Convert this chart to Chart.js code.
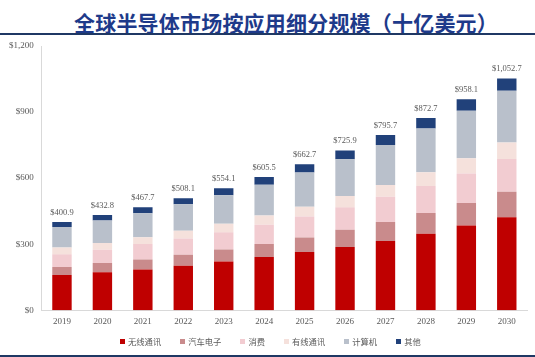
<!DOCTYPE html>
<html>
<head>
<meta charset="utf-8">
<script src="https://cdn.jsdelivr.net/npm/chart.js@4.4.0/dist/chart.umd.min.js"></script>
<style>
  html, body { margin: 0; padding: 0; background: #ffffff; }
  #wrap { position: relative; width: 535px; height: 357px; overflow: hidden; background: #fff; }
  #title { position: absolute; left: 74px; top: 11px; font-family: "Noto Sans CJK SC", sans-serif; font-weight: 700; font-size: 21px; line-height: 23px; letter-spacing: 0.2px; color: #1E3A8A; white-space: nowrap; }
  #topline { position: absolute; left: 0; top: 33px; width: 535px; height: 2px; background: #1F3864; }
  #botline { position: absolute; left: 0; top: 355px; width: 535px; height: 2px; background: #1F3864; }
  canvas { position: absolute; left: 0; top: 0; }
  #legend { position: absolute; left: 120px; top: 334px; height: 14px; display: flex; align-items: center; font-family: "Noto Sans CJK SC", sans-serif; font-size: 8.3px; color: #595959; white-space: nowrap; }
  .item { display: flex; align-items: center; margin-right: 19px; }
  .sw { width: 5px; height: 5px; margin-right: 3px; }
</style>
</head>
<body>
<div id="wrap">
  <div id="title">全球半导体市场按应用细分规模（十亿美元）</div>
  <div id="topline"></div>
  <canvas id="c" width="535" height="357"></canvas>
  <div id="legend"></div>
  <div id="botline"></div>
</div>
<script>
const years = ['2019','2020','2021','2022','2023','2024','2025','2026','2027','2028','2029','2030'];
const totals = [400.9, 432.8, 467.7, 508.1, 554.1, 605.5, 662.7, 725.9, 795.7, 872.7, 958.1, 1052.7];
const wireless = [160.0, 172.7, 184.7, 202.3, 221.1, 241.8, 264.6, 286.9, 314.5, 347.6, 384.3, 422.1];
const automotive = [36.4, 42.2, 45.2, 49.7, 54.3, 58.6, 65.8, 78.2, 85.8, 93.4, 102.6, 116.3];
const consumer = [57.7, 60.2, 70.8, 73.8, 78.3, 87.3, 94.7, 102.3, 115.5, 123.4, 133.8, 148.1];
const wired = [30.4, 30.1, 30.1, 34.7, 39.2, 42.1, 45.1, 51.2, 52.6, 61.7, 69.4, 75.2];
const computing = [93.6, 102.0, 109.8, 120.4, 129.6, 139.6, 155.0, 166.8, 182.1, 198.7, 215.3, 235.0];
const other = [22.8, 25.6, 27.1, 27.2, 31.6, 36.1, 37.5, 40.5, 45.2, 47.9, 52.7, 56.0];
const yTicks = [0, 300, 600, 900, 1200];
const seriesNames = ['无线通讯', '汽车电子', '消费', '有线通讯', '计算机', '其他'];

const colors = ['#BF0000', '#C98B8C', '#F2CCD1', '#F5E1DC', '#B9C0CB', '#21417A'];
const seriesData = [wireless, automotive, consumer, wired, computing, other];

// HTML legend built from the series names and colours
const legendEl = document.getElementById('legend');
seriesNames.forEach((n, k) => {
  const it = document.createElement('span');
  it.className = 'item';
  const sw = document.createElement('span');
  sw.className = 'sw';
  sw.style.background = colors[k];
  const tx = document.createElement('span');
  tx.textContent = n;
  it.appendChild(sw); it.appendChild(tx);
  legendEl.appendChild(it);
});

const totalLabels = {
  id: 'totalLabels',
  afterDatasetsDraw(chart) {
    const ctx = chart.ctx;
    const lastMeta = chart.getDatasetMeta(chart.data.datasets.length - 1);
    ctx.save();
    ctx.font = '8.5px "Liberation Serif", serif';
    ctx.fillStyle = '#595959';
    ctx.textAlign = 'center';
    ctx.textBaseline = 'bottom';
    lastMeta.data.forEach((bar, i) => {
      const t = totals[i];
      const txt = '$' + t.toLocaleString('en-US', {minimumFractionDigits: 1, maximumFractionDigits: 1});
      ctx.fillText(txt, bar.x, bar.y - 5);
    });
    ctx.restore();
  }
};

new Chart(document.getElementById('c'), {
  type: 'bar',
  data: {
    labels: years,
    datasets: seriesNames.map((n, k) => ({
      label: n,
      data: seriesData[k],
      backgroundColor: colors[k],
      borderWidth: 0,
      categoryPercentage: 0.8,
      barPercentage: 0.6
    }))
  },
  options: {
    responsive: false,
    animation: false,
    devicePixelRatio: 1,
    layout: { padding: { top: 46, left: 1, right: 8, bottom: 24 } },
    plugins: {
      title: { display: false },
      tooltip: { enabled: false },
      legend: { display: false }
    },
    scales: {
      x: {
        stacked: true,
        grid: { display: false, drawTicks: false },
        border: { display: true, color: '#D9D9D9' },
        ticks: { color: '#595959', font: { family: '"Liberation Serif", serif', size: 9 }, padding: 6 }
      },
      y: {
        stacked: true,
        min: 0,
        max: 1200,
        afterBuildTicks(axis) { axis.ticks = yTicks.map(v => ({ value: v })); },
        grid: { display: false, drawTicks: false },
        border: { display: true, color: '#D9D9D9' },
        ticks: {
          color: '#595959',
          font: { family: '"Liberation Serif", serif', size: 9 },
          padding: 8,
          callback: v => '$' + Number(v).toLocaleString('en-US')
        }
      }
    }
  },
  plugins: [totalLabels]
});
</script>
</body>
</html>
